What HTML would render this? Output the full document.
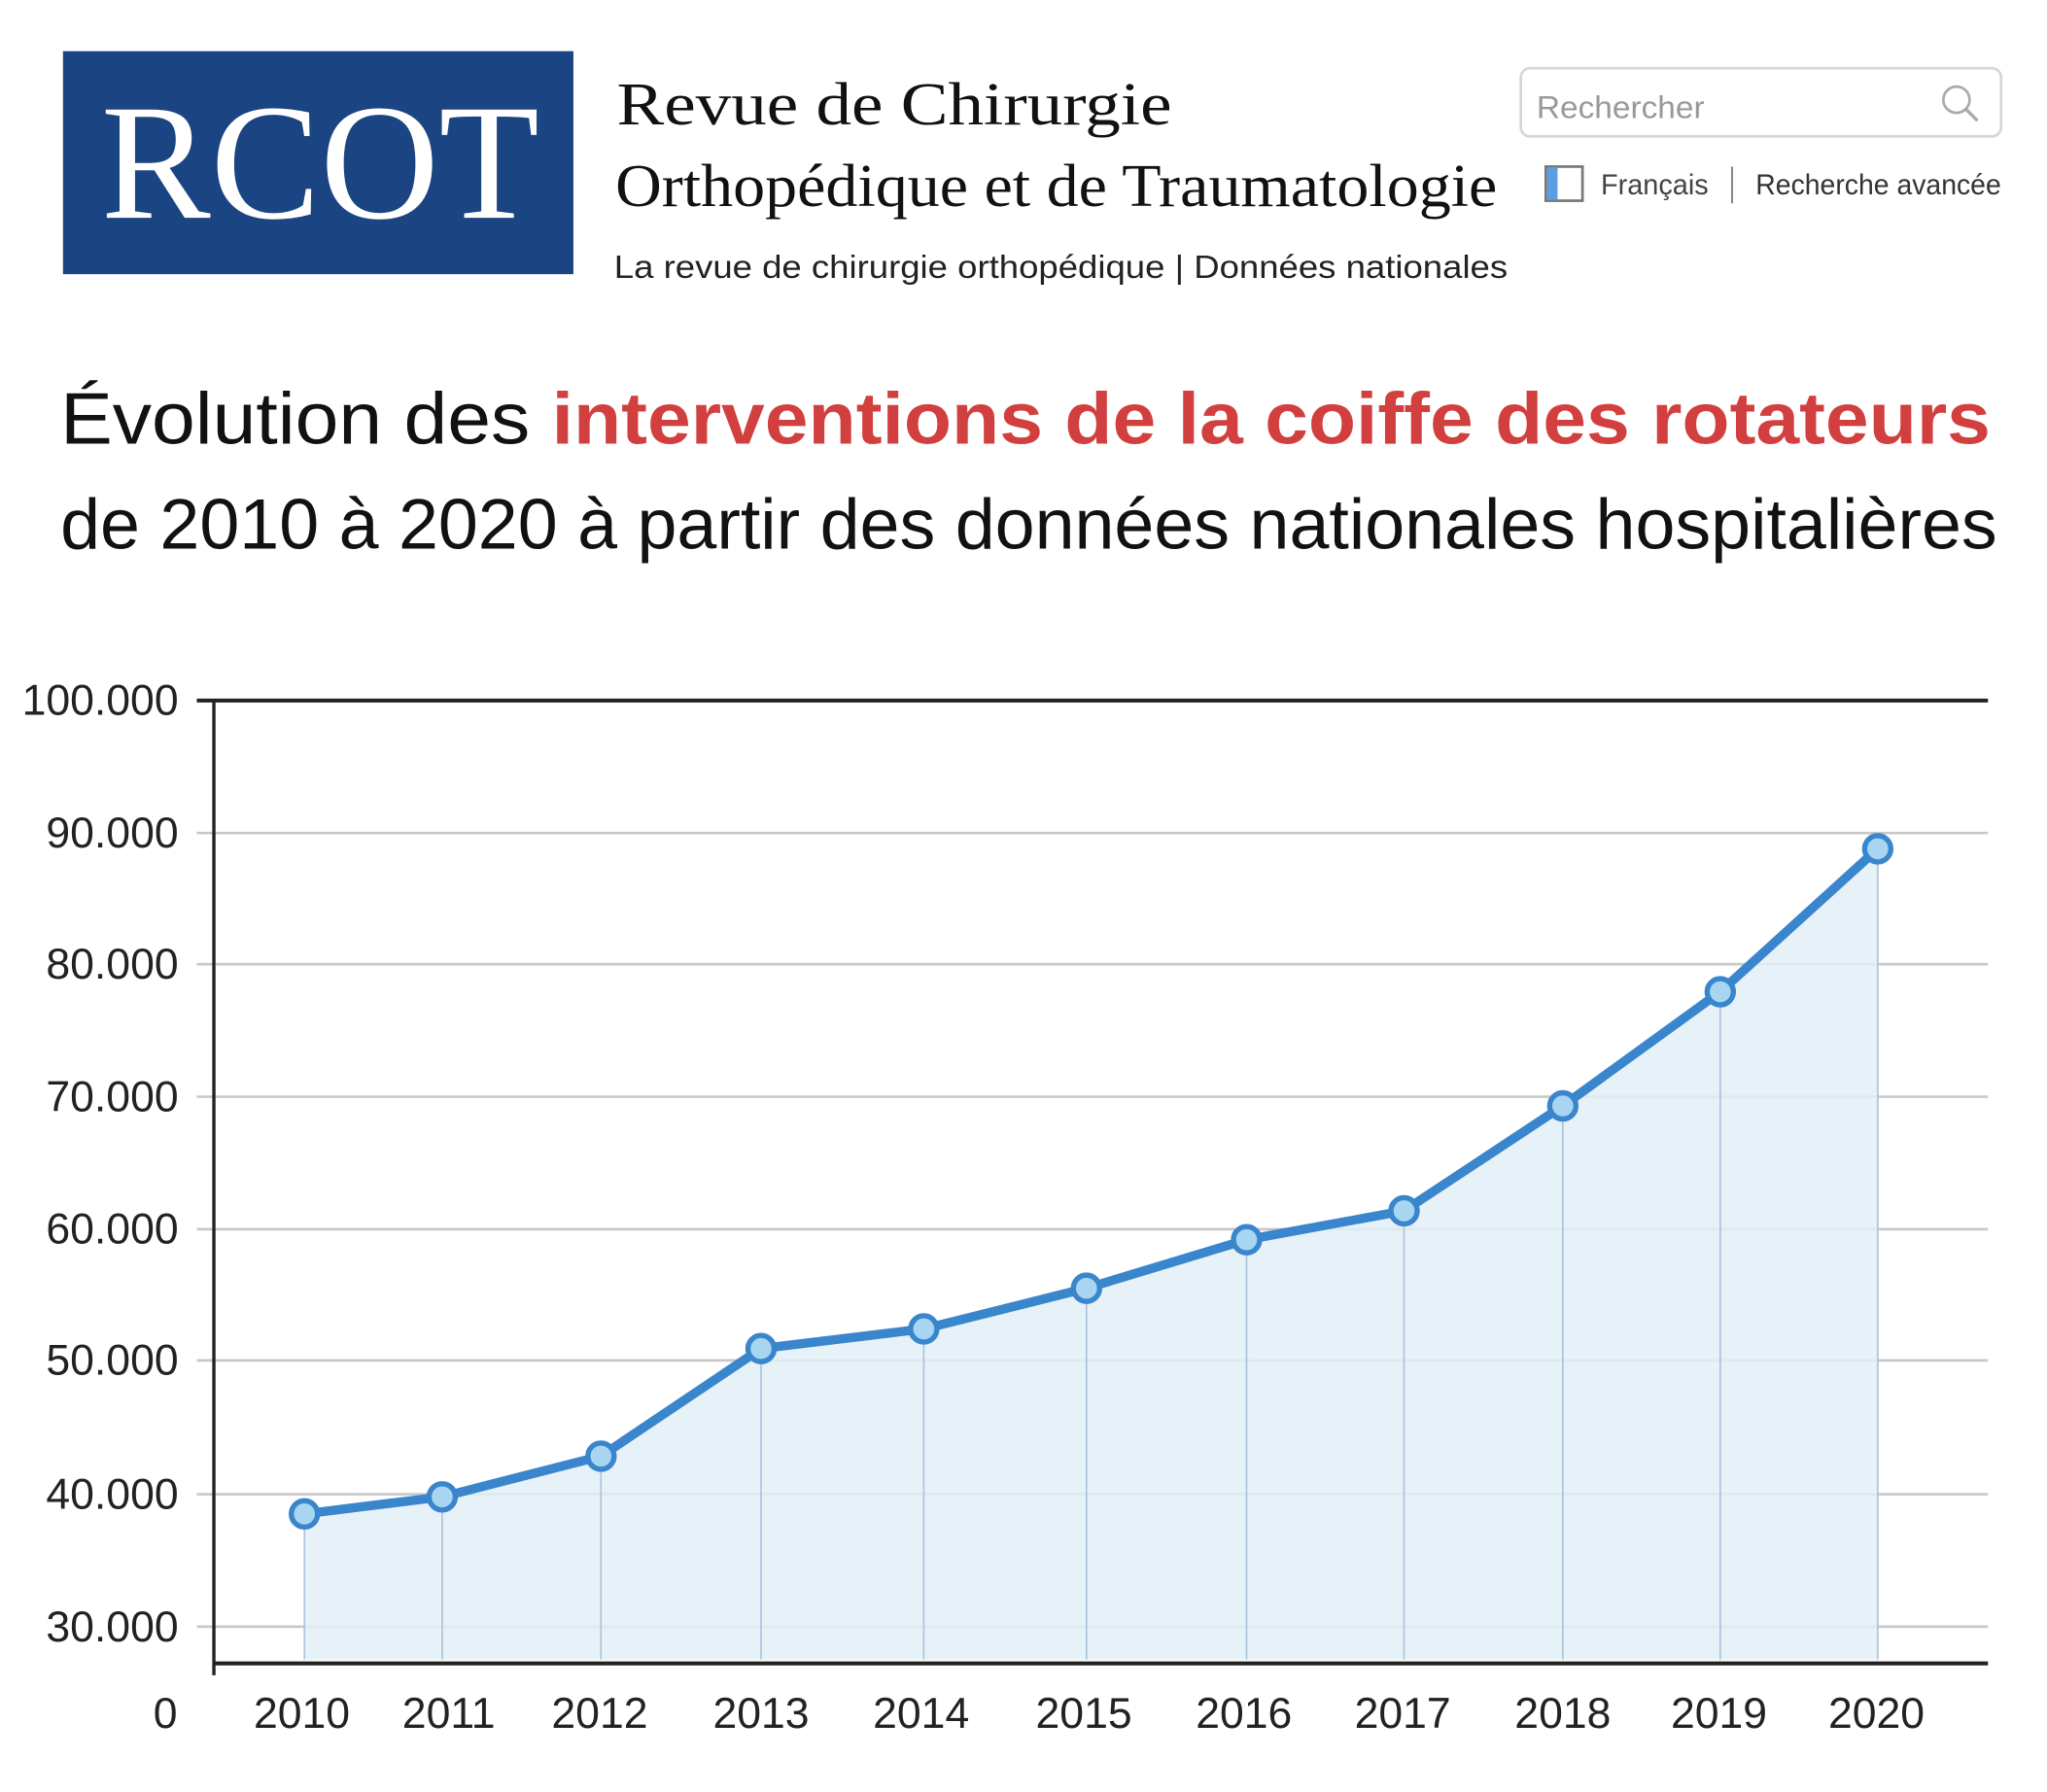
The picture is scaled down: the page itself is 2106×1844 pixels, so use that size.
<!DOCTYPE html>
<html><head><meta charset="utf-8"><style>
html,body{margin:0;padding:0;background:#fff;}
svg{display:block;}
</style></head><body>
<svg width="2106" height="1844" viewBox="0 0 1560 1366" preserveAspectRatio="none" xmlns="http://www.w3.org/2000/svg">
<rect width="1560" height="1366" fill="#fff"/>
<!-- Logo -->
<rect x="48" y="39" width="389" height="170" fill="#1b4582"/>
<text x="244" y="166" text-anchor="middle" font-family="Liberation Serif, serif" font-size="126" fill="#fff" textLength="334" lengthAdjust="spacingAndGlyphs">RCOT</text>
<text x="470" y="95" font-family="Liberation Serif, serif" font-size="46" fill="#111" textLength="423" lengthAdjust="spacingAndGlyphs">Revue de Chirurgie</text>
<text x="469" y="157" font-family="Liberation Serif, serif" font-size="46" fill="#111" textLength="672" lengthAdjust="spacingAndGlyphs">Orthopédique et de Traumatologie</text>
<text x="468" y="212" font-family="Liberation Sans, sans-serif" font-size="25" fill="#222" textLength="681" lengthAdjust="spacingAndGlyphs">La revue de chirurgie orthopédique | Données nationales</text>
<!-- Search -->
<rect x="1159" y="52" width="366" height="52" rx="7" fill="#fff" stroke="#d6d6d6" stroke-width="2"/>
<text x="1171" y="90" font-family="Liberation Sans, sans-serif" font-size="24" fill="#999" textLength="128" lengthAdjust="spacingAndGlyphs">Rechercher</text>
<circle cx="1491" cy="76" r="10" fill="none" stroke="#aaa" stroke-width="2"/>
<line x1="1498" y1="83" x2="1507" y2="92" stroke="#aaa" stroke-width="2.5"/>
<rect x="1178" y="127" width="28" height="26" fill="#fff" stroke="#777" stroke-width="2"/>
<rect x="1179" y="128" width="8" height="24" fill="#5a9de0"/>
<text x="1220" y="148" font-family="Liberation Sans, sans-serif" font-size="22" fill="#444" textLength="82" lengthAdjust="spacingAndGlyphs">Français</text>
<line x1="1320" y1="127" x2="1320" y2="155" stroke="#888" stroke-width="1.5"/>
<text x="1338" y="148" font-family="Liberation Sans, sans-serif" font-size="22" fill="#333" textLength="187" lengthAdjust="spacingAndGlyphs">Recherche avancée</text>
<!-- Title -->
<text x="46" y="338" font-family="Liberation Sans, sans-serif" font-size="56" fill="#111" textLength="1471" lengthAdjust="spacingAndGlyphs">Évolution des <tspan fill="#d23f3f" font-weight="bold">interventions de la coiffe des rotateurs</tspan></text>
<text x="46" y="418" font-family="Liberation Sans, sans-serif" font-size="54" fill="#111" textLength="1476" lengthAdjust="spacingAndGlyphs">de 2010 à 2020 à partir des données nationales hospitalières</text>
<!-- Grid -->
<g stroke="#c8c8c8" stroke-width="2">
<line x1="150" y1="635" x2="1515" y2="635"/>
<line x1="150" y1="735" x2="1515" y2="735"/>
<line x1="150" y1="836" x2="1515" y2="836"/>
<line x1="150" y1="937" x2="1515" y2="937"/>
<line x1="150" y1="1037" x2="1515" y2="1037"/>
<line x1="150" y1="1139" x2="1515" y2="1139"/>
<line x1="150" y1="1240" x2="1515" y2="1240"/>
</g>
<!-- Area -->
<polygon points="232,1154 337,1141 458,1110 580,1028 704,1013 828,982 950,945 1070,923 1191,843 1311,756 1431,647 1431,1265 232,1265" fill="#e3eef7" opacity="0.85"/>
<g stroke="#a9c3dc" stroke-width="1.2">
<line x1="232" y1="1154" x2="232" y2="1265"/><line x1="337" y1="1141" x2="337" y2="1265"/>
<line x1="458" y1="1110" x2="458" y2="1265"/><line x1="580" y1="1028" x2="580" y2="1265"/>
<line x1="704" y1="1013" x2="704" y2="1265"/><line x1="828" y1="982" x2="828" y2="1265"/>
<line x1="950" y1="945" x2="950" y2="1265"/><line x1="1070" y1="923" x2="1070" y2="1265"/>
<line x1="1191" y1="843" x2="1191" y2="1265"/><line x1="1311" y1="756" x2="1311" y2="1265"/>
<line x1="1431" y1="647" x2="1431" y2="1265"/>
</g>
<!-- Axes -->
<line x1="150" y1="534" x2="1515" y2="534" stroke="#222" stroke-width="3"/>
<line x1="163" y1="534" x2="163" y2="1277" stroke="#222" stroke-width="2.5"/>
<line x1="163" y1="1268" x2="1515" y2="1268" stroke="#222" stroke-width="3"/>
<!-- Line -->
<polyline points="232,1154 337,1141 458,1110 580,1028 704,1013 828,982 950,945 1070,923 1191,843 1311,756 1431,647" fill="none" stroke="#3a86cc" stroke-width="7" stroke-linejoin="round"/>
<g fill="#a8d6f2" stroke="#3a86cc" stroke-width="4">
<circle cx="232" cy="1154" r="10"/><circle cx="337" cy="1141" r="10"/><circle cx="458" cy="1110" r="10"/>
<circle cx="580" cy="1028" r="10"/><circle cx="704" cy="1013" r="10"/><circle cx="828" cy="982" r="10"/>
<circle cx="950" cy="945" r="10"/><circle cx="1070" cy="923" r="10"/><circle cx="1191" cy="843" r="10"/>
<circle cx="1311" cy="756" r="10"/><circle cx="1431" cy="647" r="10"/>
</g>
<!-- Y labels -->
<g font-family="Liberation Sans, sans-serif" font-size="33" fill="#222" text-anchor="end">
<text x="136" y="545">100.000</text>
<text x="136" y="646">90.000</text>
<text x="136" y="746">80.000</text>
<text x="136" y="847">70.000</text>
<text x="136" y="948">60.000</text>
<text x="136" y="1048">50.000</text>
<text x="136" y="1150">40.000</text>
<text x="136" y="1251">30.000</text>
</g>
<g font-family="Liberation Sans, sans-serif" font-size="33" fill="#222" text-anchor="middle">
<text x="126" y="1317">0</text>
<text x="230" y="1317">2010</text><text x="342" y="1317">2011</text><text x="457" y="1317">2012</text>
<text x="580" y="1317">2013</text><text x="702" y="1317">2014</text><text x="826" y="1317">2015</text>
<text x="948" y="1317">2016</text><text x="1069" y="1317">2017</text><text x="1191" y="1317">2018</text>
<text x="1310" y="1317">2019</text><text x="1430" y="1317">2020</text>
</g>
</svg>
</body></html>
